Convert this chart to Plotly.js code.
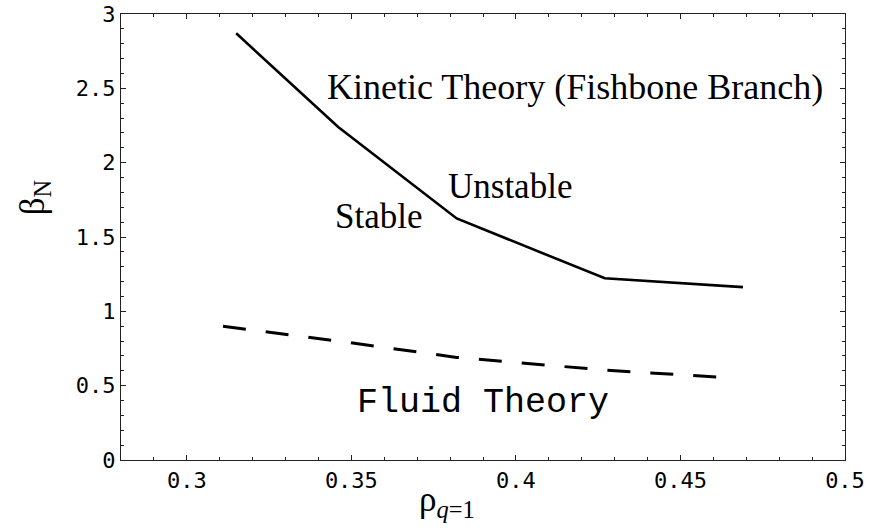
<!DOCTYPE html>
<html>
<head>
<meta charset="utf-8">
<script src="https://cdn.plot.ly/plotly-3.0.1.min.js"></script>
<style>html,body{margin:0;padding:0;background:#fff;}#chart{width:886px;height:532px;}</style>
</head>
<body>
<div id="chart"></div>
<script>
// Kinetic theory (fishbone branch) threshold
const kineticRho = [0.315, 0.346, 0.382, 0.427, 0.469];
const kineticBeta = [2.87, 2.24, 1.625, 1.222, 1.163];
// Fluid theory threshold
const fluidRho = [0.311, 0.346, 0.382, 0.427, 0.463];
const fluidBeta = [0.90, 0.80, 0.69, 0.605, 0.555];

const xTickVals = [0.3, 0.35, 0.4, 0.45, 0.5];
const xTickText = ['0.3', '0.35', '0.4', '0.45', '0.5'];
const yTickVals = [0, 0.5, 1, 1.5, 2, 2.5, 3];
const yTickText = ['0', '0.5', '1', '1.5', '2', '2.5', '3'];

const xTitle = 'ρ<sub><i>q</i>=1</sub>';
const yTitle = 'β<sub>N</sub>';

const labelTexts = {
  kinetic: 'Kinetic Theory (Fishbone Branch)',
  unstable: 'Unstable',
  stable: 'Stable',
  fluid: 'Fluid Theory'
};

const traces = [
  {x: kineticRho, y: kineticBeta, mode: 'lines', name: 'Kinetic',
   line: {color: '#000', width: 2.6}, showlegend: false},
  {x: fluidRho, y: fluidBeta, mode: 'lines', name: 'Fluid',
   line: {color: '#000', width: 3, dash: '23px,20px'}, showlegend: false}
];

const serif = 'Liberation Serif, Times New Roman, serif';
const mono = 'Liberation Mono, Courier New, monospace';
const tickFont = {family: 'DejaVu Sans Mono, monospace', size: 22, color: '#000'};

const axisCommon = {
  showgrid: false, zeroline: false, showline: true, linecolor: '#222', linewidth: 1.2,
  mirror: 'allticks', ticks: 'inside', ticklen: 5, tickwidth: 1, tickcolor: '#222',
  tickfont: tickFont, tickmode: 'array'
};

const layout = {
  width: 886, height: 532,
  margin: {l: 121, r: 41, t: 14, b: 72},
  paper_bgcolor: '#fff', plot_bgcolor: '#fff',
  xaxis: Object.assign({}, axisCommon, {
    range: [0.28, 0.5], tickvals: xTickVals, ticktext: xTickText,
    minor: {ticks: 'inside', ticklen: 3, tickwidth: 1, tickcolor: '#222', dtick: 0.01, tick0: 0.28, showgrid: false}
  }),
  yaxis: Object.assign({}, axisCommon, {
    range: [0, 3], tickvals: yTickVals, ticktext: yTickText,
    minor: {ticks: 'inside', ticklen: 3, tickwidth: 1, tickcolor: '#222', dtick: 0.1, tick0: 0, showgrid: false}
  }),
  annotations: [
    {x: 0.4496, y: 0, xref: 'paper', yref: 'paper', yanchor: 'middle', yshift: -41,
     text: xTitle, showarrow: false, font: {family: serif, size: 35, color: '#000'}},
    {x: -0.152, y: 0.59, xref: 'paper', yref: 'paper', textangle: -90,
     text: yTitle, showarrow: false, font: {family: serif, size: 35, color: '#000'}},
    {x: 0.4179, y: 2.51, xref: 'x', yref: 'y', text: labelTexts.kinetic, showarrow: false,
     font: {family: serif, size: 36, color: '#000'}},
    {x: 0.3983, y: 1.84, xref: 'x', yref: 'y', text: labelTexts.unstable, showarrow: false,
     font: {family: serif, size: 35, color: '#000'}},
    {x: 0.3581, y: 1.635, xref: 'x', yref: 'y', text: labelTexts.stable, showarrow: false,
     font: {family: serif, size: 35, color: '#000'}},
    {x: 0.3899, y: 0.385, xref: 'x', yref: 'y', text: labelTexts.fluid, showarrow: false,
     font: {family: mono, size: 35, color: '#000'}}
  ]
};

Plotly.newPlot('chart', traces, layout, {displayModeBar: false, staticPlot: true});
</script>
</body>
</html>
